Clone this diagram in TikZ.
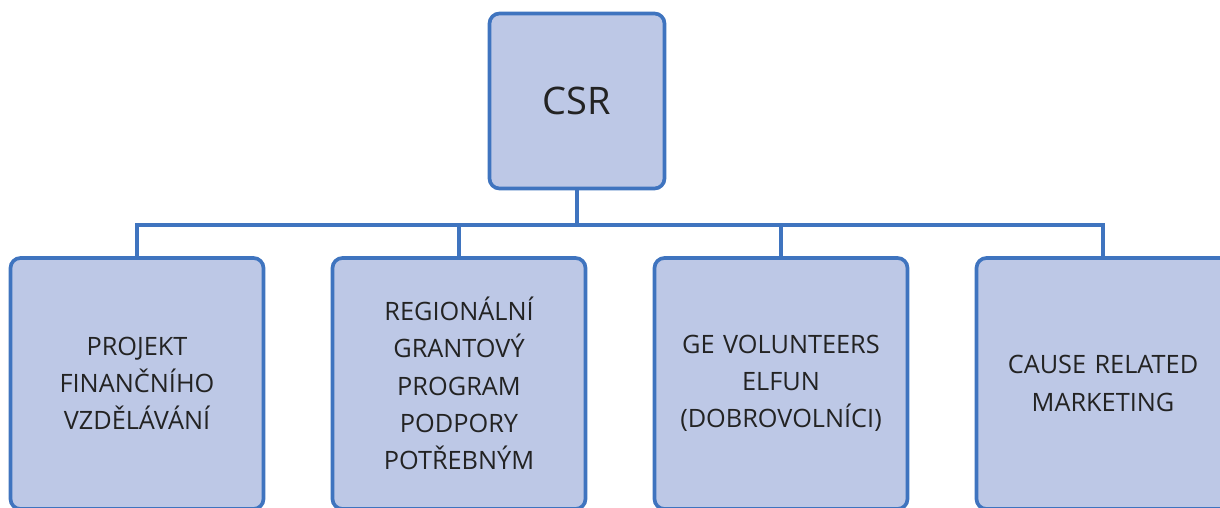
\documentclass[tikz,border=0pt]{standalone}
\usepackage{fontspec}
\setmainfont{Open Sans}
\usepackage{tikz}
\usetikzlibrary{positioning, calc}
\definecolor{boxfill}{RGB}{189,200,230}
\definecolor{boxline}{RGB}{63,116,191}
\definecolor{textcolor}{RGB}{35,35,35}

\begin{document}
\begin{tikzpicture}[
    topic/.style={draw=boxline, fill=boxfill, line width=2.6pt, rounded corners=0.25cm,
        minimum width=6.325cm, minimum height=6.275cm, text width=6cm, align=center,
        text=textcolor, font=\fontsize{18}{26.5}\selectfont},
    root/.style={draw=boxline, fill=boxfill, line width=2.6pt, rounded corners=0.25cm,
        minimum width=4.375cm, minimum height=4.375cm, align=center,
        text=textcolor, font=\fontsize{27}{32}\selectfont},
    link/.style={draw=boxline, line width=2.4pt}
]
    \useasboundingbox (0,0) rectangle (30.5,-12.7);

    % Root
    \node[root] (csr) at (14.425,-2.525) {CSR};

    % Topics
    \node[topic] (projekt) at (3.425,-9.5875) {PROJEKT\\FINANČNÍHO\\VZDĚLÁVÁNÍ};
    \node[topic] (grant) at (11.475,-9.5875) {REGIONÁLNÍ\\GRANTOVÝ\\PROGRAM\\PODPORY\\POTŘEBNÝM};
    \node[topic] (volunteers) at (19.525,-9.5875) {GE VOLUNTEERS\\ELFUN\\(DOBROVOLNÍCI)};
    \node[topic] (cause) at (27.575,-9.5875) {CAUSE RELATED\\MARKETING};

    % Connectors
    \coordinate (hub) at (14.425,-5.625);
    \draw[link] (csr.south) -- (hub);
    \draw[link] (projekt.north) |- (hub) -| (cause.north);
    \draw[link] (grant.north) -- (grant.north |- hub);
    \draw[link] (volunteers.north) -- (volunteers.north |- hub);
\end{tikzpicture}
\end{document}
